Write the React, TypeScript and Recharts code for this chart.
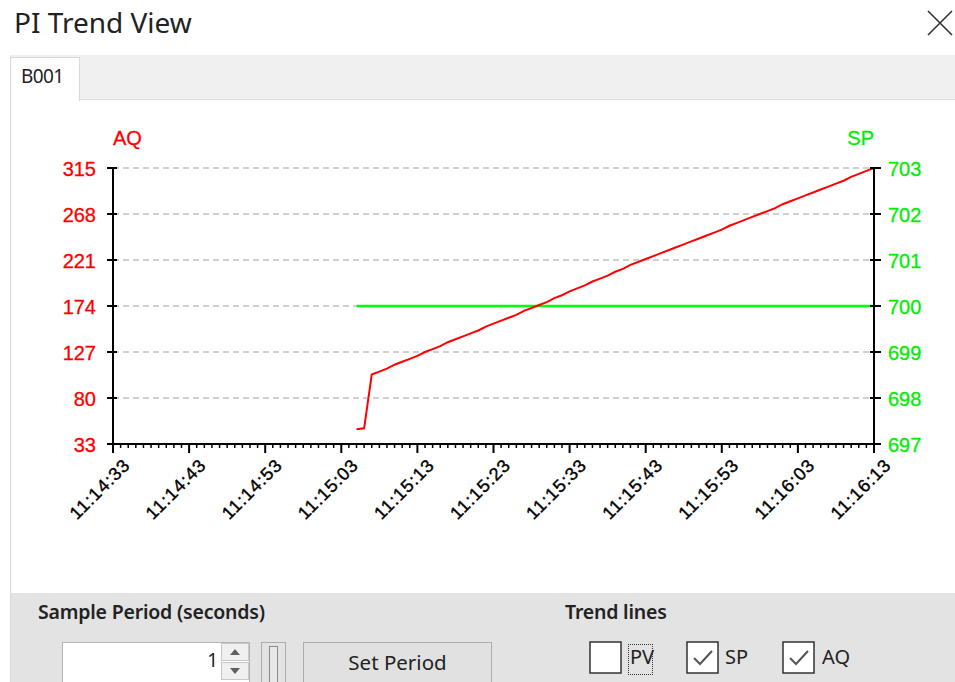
import React from "react";
import { LineChart, Line, XAxis, YAxis, CartesianGrid } from "recharts";

// x axis: seconds after 11:14:33, one label every 10 s
const timeLabels = [
  "11:14:33", "11:14:43", "11:14:53", "11:15:03", "11:15:13", "11:15:23",
  "11:15:33", "11:15:43", "11:15:53", "11:16:03", "11:16:13",
];
const aqTicks = [33, 80, 127, 174, 221, 268, 315];
const spTicks = [697, 698, 699, 700, 701, 702, 703];

// samples start at 11:15:05, one per second (sample period 1 s)
const firstSample = 32;
const samplePeriod = 1;
const aqValues = [
  48, 49, 104, 107, 110, 114, 117, 120, 123, 127,
  130, 133, 137, 140, 143, 146, 149, 153, 156, 159,
  162, 165, 169, 172, 175, 178, 182, 185, 189, 192,
  195, 199, 202, 205, 209, 212, 216, 219, 222, 225,
  228, 231, 234, 237, 240, 243, 246, 249, 252, 256,
  259, 262, 265, 268, 271, 274, 278, 281, 284, 287,
  290, 293, 296, 299, 302, 306, 309, 312, 315,
];
const spValues = [
  700, 700, 700, 700, 700, 700, 700, 700, 700, 700,
  700, 700, 700, 700, 700, 700, 700, 700, 700, 700,
  700, 700, 700, 700, 700, 700, 700, 700, 700, 700,
  700, 700, 700, 700, 700, 700, 700, 700, 700, 700,
  700, 700, 700, 700, 700, 700, 700, 700, 700, 700,
  700, 700, 700, 700, 700, 700, 700, 700, 700, 700,
  700, 700, 700, 700, 700, 700, 700, 700, 700,
];

const rows = aqValues.map((aq, i) => ({
  t: firstSample + i * samplePeriod,
  aq,
  sp: spValues[i],
}));

const secondTicks = Array.from({ length: 101 }, (_, i) => i);

const AXIS_FONT = "'Liberation Sans', Arial, sans-serif";
const UI_FONT = "'Noto Sans', 'Open Sans', sans-serif";
const RED = "#ff0000";
const GREEN = "#00ee00";

function TimeTick({ x, y, payload }: any) {
  const v = payload.value as number;
  const major = v % 10 === 0;
  const ax = x + 14;
  const ay = y + 18;
  return (
    <g>
      <line x1={x} x2={x} y1={y} y2={y + (major ? 9 : 4)} stroke="#000" strokeWidth={major ? 2 : 1.5} />
      {major && (
        <text
          x={ax}
          y={ay}
          transform={`rotate(-45 ${ax} ${ay})`}
          textAnchor="end"
          dominantBaseline="central"
          fontFamily={AXIS_FONT}
          fontSize={18}
          letterSpacing={1}
          fill="#000"
          stroke="#000"
          strokeWidth={0.4}
        >
          {timeLabels[v / 10]}
        </text>
      )}
    </g>
  );
}

function AqTick({ x, y, payload }: any) {
  return (
    <g>
      <line x1={x - 6} x2={x + 4} y1={y} y2={y} stroke="#000" strokeWidth={2} />
      <text x={x - 17} y={y + 1} textAnchor="end" dominantBaseline="central" fontFamily={AXIS_FONT} fontSize={20} fill={RED} stroke={RED} strokeWidth={0.3}>
        {payload.value}
      </text>
    </g>
  );
}

function SpTick({ x, y, payload }: any) {
  return (
    <g>
      <line x1={x - 4} x2={x + 7} y1={y} y2={y} stroke="#000" strokeWidth={2} />
      <text x={x + 14} y={y + 1} textAnchor="start" dominantBaseline="central" fontFamily={AXIS_FONT} fontSize={20} fill={GREEN} stroke={GREEN} strokeWidth={0.3}>
        {payload.value}
      </text>
    </g>
  );
}

function Checkbox({ left, checked }: { left: number; checked: boolean }) {
  return (
    <svg width={33} height={33} style={{ position: "absolute", left, top: 641 }}>
      <rect x={1} y={1} width={31} height={31} fill="#fff" stroke="#333" strokeWidth={1.5} />
      {checked && <path d="M8 17 L14 23 L26 10" fill="none" stroke="#555" strokeWidth={2} />}
    </svg>
  );
}

export default function App() {
  return (
    <div
      style={{
        position: "fixed",
        left: 0,
        top: 0,
        width: 955,
        height: 682,
        overflow: "hidden",
        background: "#fff",
        fontFamily: UI_FONT,
        color: "#222",
      }}
    >
      <div style={{ position: "absolute", left: 14, top: 3, fontSize: 28 }}>PI Trend View</div>
      <svg width={28} height={28} style={{ position: "absolute", left: 926, top: 9 }}>
        <path d="M2 2 L26 26 M26 2 L2 26" stroke="#333" strokeWidth={1.6} />
      </svg>

      {/* tab strip */}
      <div style={{ position: "absolute", left: 10, top: 55, width: 945, height: 45, background: "#f0f0f0", borderBottom: "1px solid #d9d9d9", boxSizing: "border-box" }} />
      <div style={{ position: "absolute", left: 10, top: 57, width: 70, height: 44, background: "#fff", border: "1px solid #d9d9d9", borderBottom: "none", boxSizing: "border-box" }} />
      <div style={{ position: "absolute", left: 21, top: 63, fontSize: 19, letterSpacing: -0.6 }}>B001</div>
      <div style={{ position: "absolute", left: 10, top: 100, width: 1, height: 582, background: "#d9d9d9" }} />

      <div style={{ position: "absolute", left: 10, top: 100 }}>
        <LineChart width={945} height={490} data={rows} margin={{ top: 68, right: 0, bottom: 0, left: 0 }}>
          <CartesianGrid yAxisId="aq" vertical={false} stroke="#d0d0d0" strokeWidth={2} strokeDasharray="6 4" />
          <XAxis
            dataKey="t"
            type="number"
            domain={[0, 100]}
            ticks={secondTicks}
            interval={0}
            height={146}
            tickLine={false}
            tickSize={0}
            tickMargin={0}
            axisLine={{ stroke: "#000", strokeWidth: 2 }}
            tick={(p: any) => <TimeTick {...p} />}
          />
          <YAxis
            yAxisId="aq"
            orientation="left"
            width={103}
            domain={[33, 315]}
            ticks={aqTicks}
            interval={0}
            tickLine={false}
            tickSize={0}
            tickMargin={0}
            axisLine={{ stroke: "#000", strokeWidth: 2 }}
            tick={(p: any) => <AqTick {...p} />}
            label={{
              content: ({ viewBox }: any) => (
                <text x={viewBox.x + viewBox.width} y={viewBox.y - 23} fontFamily={AXIS_FONT} fontSize={20} fill={RED} stroke={RED} strokeWidth={0.3}>
                  AQ
                </text>
              ),
            }}
          />
          <YAxis
            yAxisId="sp"
            orientation="right"
            width={81}
            domain={[697, 703]}
            ticks={spTicks}
            interval={0}
            tickLine={false}
            tickSize={0}
            tickMargin={0}
            axisLine={{ stroke: "#000", strokeWidth: 2 }}
            tick={(p: any) => <SpTick {...p} />}
            label={{
              content: ({ viewBox }: any) => (
                <text x={viewBox.x} y={viewBox.y - 23} textAnchor="end" fontFamily={AXIS_FONT} fontSize={20} fill={GREEN} stroke={GREEN} strokeWidth={0.3}>
                  SP
                </text>
              ),
            }}
          />
          <Line yAxisId="sp" type="linear" dataKey="sp" stroke="#00ff00" strokeWidth={2.5} dot={false} isAnimationActive={false} />
          <Line yAxisId="aq" type="linear" dataKey="aq" stroke={RED} strokeWidth={2} dot={false} isAnimationActive={false} />
        </LineChart>
      </div>

      {/* bottom control panel */}
      <div style={{ position: "absolute", left: 11, top: 593, width: 944, height: 89, background: "#e3e3e3" }} />
      <div style={{ position: "absolute", left: 38, top: 598, fontSize: 19.5, fontWeight: 600, letterSpacing: -0.2 }}>Sample Period (seconds)</div>
      <div style={{ position: "absolute", left: 62, top: 642, width: 188, height: 42, background: "#fff", border: "1px solid #b4b4b4", boxSizing: "border-box" }} />
      <div style={{ position: "absolute", left: 200, top: 647, width: 18, fontSize: 19, textAlign: "right" }}>1</div>
      <svg width={29} height={40} style={{ position: "absolute", left: 221, top: 643 }}>
        <rect x={0.5} y={0.5} width={27} height={17} fill="#f0f0f0" stroke="#c8c8c8" />
        <rect x={0.5} y={19.5} width={27} height={17} fill="#f0f0f0" stroke="#c8c8c8" />
        <path d="M9 12 L14 6 L19 12 Z" fill="#606060" />
        <path d="M9 25 L14 31 L19 25 Z" fill="#606060" />
      </svg>
      <svg width={26} height={42} style={{ position: "absolute", left: 261, top: 642 }}>
        <rect x={0.5} y={0.5} width={24} height={41} fill="none" stroke="#adadad" />
        <rect x={8.5} y={4.5} width={8} height={37} fill="#e8e8e8" stroke="#8a8a8a" />
      </svg>
      <div
        style={{
          position: "absolute",
          left: 303,
          top: 642,
          width: 189,
          height: 42,
          background: "#e1e1e1",
          border: "1px solid #adadad",
          boxSizing: "border-box",
          textAlign: "center",
          fontSize: 20.5,
          lineHeight: "38px",
        }}
      >
        Set Period
      </div>

      <div style={{ position: "absolute", left: 565, top: 598, fontSize: 19.5, fontWeight: 600, letterSpacing: -0.2 }}>Trend lines</div>
      <Checkbox left={589} checked={false} />
      <div style={{ position: "absolute", left: 628, top: 644, width: 25, height: 31, border: "1px dotted #333", boxSizing: "border-box" }} />
      <div style={{ position: "absolute", left: 630, top: 643, fontSize: 20 }}>PV</div>
      <Checkbox left={686} checked={true} />
      <div style={{ position: "absolute", left: 725, top: 643, fontSize: 20 }}>SP</div>
      <Checkbox left={782} checked={true} />
      <div style={{ position: "absolute", left: 822, top: 643, fontSize: 20 }}>AQ</div>
    </div>
  );
}
